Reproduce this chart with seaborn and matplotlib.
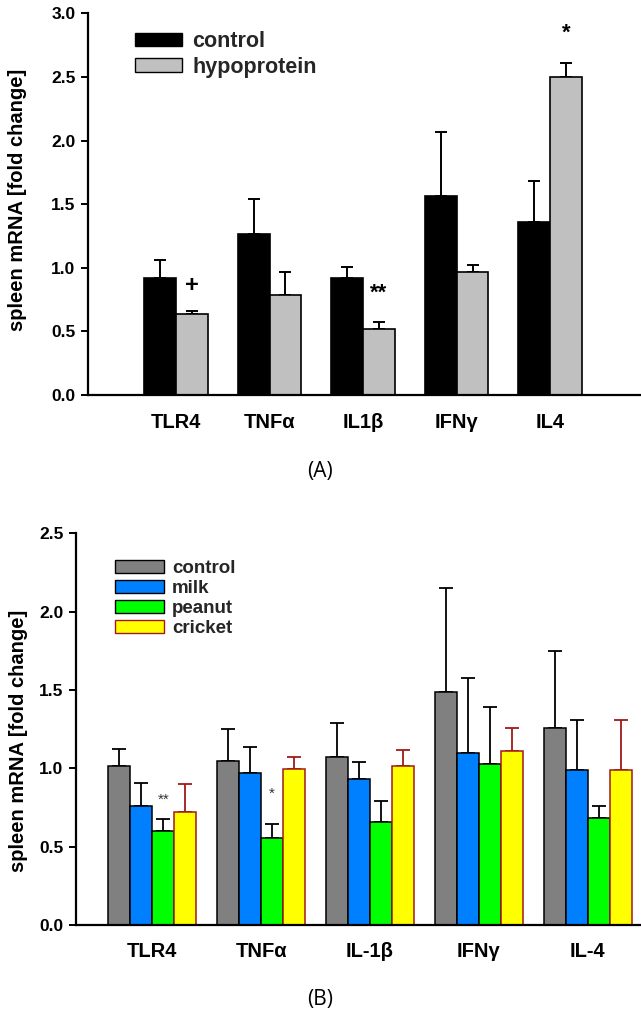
import numpy as np
import pandas as pd
import matplotlib
matplotlib.use("Agg")
import matplotlib.pyplot as plt
import seaborn as sns
from matplotlib.patches import Patch
from matplotlib.container import BarContainer

# ---------------- data ----------------
genes_a = ["TLR4", "TNFα", "IL1β", "IFNγ", "IL4"]
groups_a = ["control", "hypoprotein"]
control_a = [0.922, 1.268, 0.922, 1.567, 1.362]
control_a_err = [0.142, 0.270, 0.087, 0.503, 0.320]
hypo_a = [0.634, 0.788, 0.516, 0.969, 2.497]
hypo_a_err = [0.026, 0.181, 0.055, 0.051, 0.111]

genes_b = ["TLR4", "TNFα", "IL-1β", "IFNγ", "IL-4"]
groups_b = ["control", "milk", "peanut", "cricket"]
control_b = [1.015, 1.047, 1.073, 1.486, 1.260]
control_b_err = [0.111, 0.207, 0.219, 0.662, 0.490]
milk_b = [0.762, 0.971, 0.934, 1.096, 0.988]
milk_b_err = [0.142, 0.164, 0.105, 0.483, 0.323]
peanut_b = [0.600, 0.558, 0.660, 1.030, 0.685]
peanut_b_err = [0.077, 0.087, 0.134, 0.364, 0.077]
cricket_b = [0.724, 0.994, 1.015, 1.111, 0.988]
cricket_b_err = [0.174, 0.081, 0.100, 0.149, 0.323]

# ---------------- style ----------------
sns.set_theme(style="white")
plt.rcParams["font.family"] = ["Liberation Sans", "DejaVu Sans"]
plt.rcParams["font.weight"] = "bold"

W, H = 641, 1015
fig = plt.figure(figsize=(W / 100, H / 100), dpi=100)

def px_axes(left, right, top, bottom):
    return fig.add_axes([left / W, 1 - bottom / H, (right - left) / W, (bottom - top) / H])

def ctr(b):
    return b.get_x() + b.get_width() / 2

def style_axes(ax, ymax, ystep):
    for s in ["top", "right"]:
        ax.spines[s].set_visible(False)
    for s in ["left", "bottom"]:
        ax.spines[s].set_color("black")
        ax.spines[s].set_linewidth(1.6)
    ax.set_ylim(0, ymax)
    ticks = np.arange(0, ymax + 1e-9, ystep)
    ax.set_yticks(ticks)
    ax.set_yticklabels([f"{v:.1f}" for v in ticks])
    ax.tick_params(axis="y", direction="out", length=5, width=1.4, pad=4,
                   labelsize=12.5, colors="black", left=True)
    ax.tick_params(axis="x", length=0, labelsize=14.5, colors="black")
    for lab in ax.get_yticklabels() + ax.get_xticklabels():
        lab.set_fontweight("bold")
    ax.set_xlabel("")
    ax.grid(False)

# ---------------- panel A ----------------
axA = px_axes(88, 640, 13.3, 395)
dfA = pd.DataFrame({
    "gene": genes_a * 2,
    "group": [groups_a[0]] * 5 + [groups_a[1]] * 5,
    "value": control_a + hypo_a,
})
sns.barplot(data=dfA, x="gene", y="value", hue="group", order=genes_a,
            hue_order=groups_a, palette=["black", "#c0c0c0"], saturation=1,
            width=0.68, gap=0, edgecolor="black", linewidth=1.2, errorbar=None,
            legend=False, ax=axA)
bars_a = [c for c in axA.containers if isinstance(c, BarContainer)]
errs_a = [control_a_err, hypo_a_err]
for cont, err in zip(bars_a, errs_a):
    for b in cont:
        b.set_zorder(2)
    xs = [ctr(b) for b in cont]
    hs = [b.get_height() for b in cont]
    axA.errorbar(xs, hs, yerr=[np.zeros(len(err)), err], fmt="none",
                 ecolor="black", elinewidth=1.4, capsize=4.5, capthick=1.4, zorder=1)
axA.set_xlim(-0.94, 4.96)
style_axes(axA, 3.0, 0.5)
axA.tick_params(axis="x", pad=13)
axA.set_ylabel("spleen mRNA [fold change]", fontsize=14.5, fontweight="bold", color="black")
axA.yaxis.set_label_coords(-0.110, 0.51)

hb = bars_a[1]
axA.text(ctr(hb[0]), 0.86, "+", ha="center", va="center", fontsize=17, fontweight="bold", color="black")
axA.text(ctr(hb[2]), 0.80, "**", ha="center", va="center", fontsize=16, fontweight="bold", color="black")
axA.text(ctr(hb[4]), 2.84, "*", ha="center", va="center", fontsize=16, fontweight="bold", color="black")

axA.legend(handles=[Patch(facecolor="black", edgecolor="black", label="control"),
                    Patch(facecolor="#c0c0c0", edgecolor="black", label="hypoprotein")],
           loc="upper left", bbox_to_anchor=(135 / W, 1 - 31 / H),
           bbox_transform=fig.transFigure, frameon=False,
           handlelength=2.2, handleheight=0.6, handletextpad=0.45,
           labelspacing=0.22, borderpad=0, borderaxespad=0,
           prop={"weight": "bold", "size": 15.5})

fig.text(320 / W, 1 - 472 / H, "(A)", ha="center", va="center", fontsize=15,
         fontweight="normal", family=["Open Sans", "DejaVu Sans"], color="black")

# ---------------- panel B ----------------
axB = px_axes(76, 640, 533.3, 925)
vals_b = [control_b, milk_b, peanut_b, cricket_b]
dfB = pd.DataFrame({
    "gene": genes_b * 4,
    "group": sum([[g] * 5 for g in groups_b], []),
    "value": sum(vals_b, []),
})
colors_b = ["#808080", "#0080ff", "#00ff00", "#ffff00"]
edge_b = ["black", "black", "black", "#a01a1a"]
sns.barplot(data=dfB, x="gene", y="value", hue="group", order=genes_b,
            hue_order=groups_b, palette=colors_b, saturation=1, width=0.81, gap=0,
            edgecolor="black", linewidth=1.1, errorbar=None, legend=False, ax=axB)
bars_b = [c for c in axB.containers if isinstance(c, BarContainer)]
errs_b = [control_b_err, milk_b_err, peanut_b_err, cricket_b_err]
for cont, err, ec in zip(bars_b, errs_b, edge_b):
    for b in cont:
        b.set_edgecolor(ec)
        b.set_zorder(2)
    xs = [ctr(b) for b in cont]
    hs = [b.get_height() for b in cont]
    axB.errorbar(xs, hs, yerr=[np.zeros(len(err)), err], fmt="none",
                 ecolor=ec, elinewidth=1.3, capsize=5, capthick=1.3, zorder=1)
axB.set_xlim(-0.70, 4.48)
style_axes(axB, 2.5, 0.5)
axB.tick_params(axis="x", pad=12)
axB.set_ylabel("spleen mRNA [fold change]", fontsize=14.5, fontweight="bold", color="black")
axB.yaxis.set_label_coords(-0.085, 0.47)

pb = bars_b[2]
axB.text(ctr(pb[0]), 0.80, "**", ha="center", va="center", fontsize=11, fontweight="normal", color="#333333")
axB.text(ctr(pb[1]), 0.835, "*", ha="center", va="center", fontsize=11, fontweight="normal", color="#333333")

axB.legend(handles=[Patch(facecolor=c, edgecolor=e, label=g)
                    for c, e, g in zip(colors_b, edge_b, groups_b)],
           loc="upper left", bbox_to_anchor=(115 / W, 1 - 560 / H),
           bbox_transform=fig.transFigure, frameon=False,
           handlelength=2.6, handleheight=0.65, handletextpad=0.45,
           labelspacing=0.16, borderpad=0, borderaxespad=0,
           prop={"weight": "bold", "size": 13.5})

fig.text(320 / W, 1 - 1000 / H, "(B)", ha="center", va="center", fontsize=15,
         fontweight="normal", family=["Open Sans", "DejaVu Sans"], color="black")

fig.savefig("out.png", dpi=100, facecolor="white")
